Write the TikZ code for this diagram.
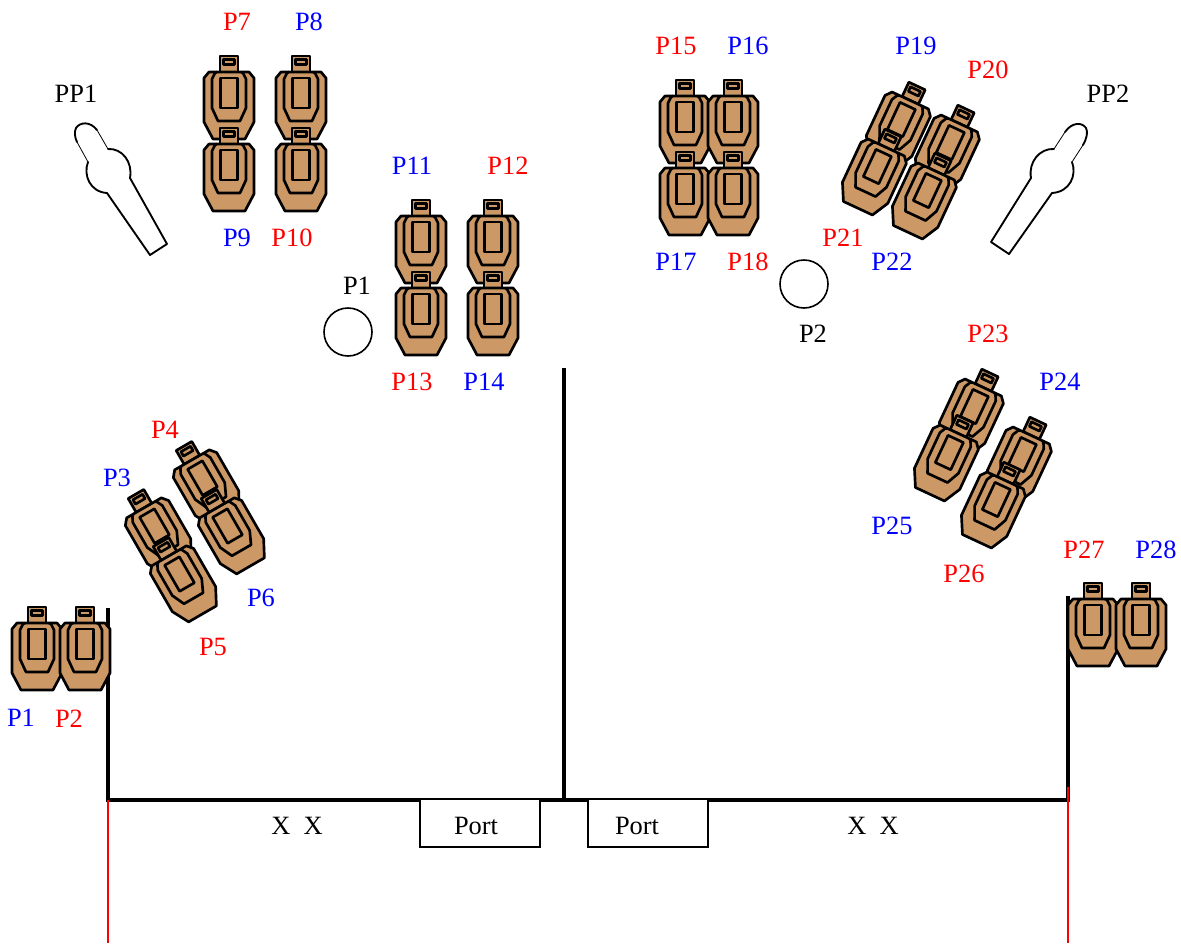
\documentclass[tikz,border=0pt]{standalone}
\usepackage{fontspec}
\setmainfont{Liberation Serif}
\definecolor{tan}{RGB}{204,153,102}
\tikzset{
  x=0.75pt,y=-0.75pt,
  target line/.style={draw=black,line width=2pt,line join=round},
  lbl/.style={font=\fontsize{19.8}{22}\selectfont,inner sep=0pt,anchor=center,yshift=-0.75pt},
  red lbl/.style={lbl,text=red},
  blue lbl/.style={lbl,text=blue},
  black lbl/.style={lbl,text=black},
  wall/.style={draw=black,line width=3.7pt},
  foul/.style={draw=red,line width=0.9pt},
  portbox/.style={draw=black,fill=white,line width=1.5pt,minimum width=90pt,minimum height=36pt,inner sep=0pt},
  ring/.style={draw=black,fill=white,line width=1.2pt,circle,minimum size=36pt,inner sep=0pt},
  popper/.style={draw=black,line width=1.4pt,line join=round,line cap=round},
  popper thin/.style={draw=black,line width=0.6pt},
  target/.pic={
    \path[target line,fill=tan] (-9,16) -- (-9,0) -- (9,0) -- (9,16) -- cycle;
    \path[target line,fill=tan] (-20,16) -- (-25,22) -- (-25,66) -- (-16,83) -- (16,83) -- (25,66) -- (25,22) -- (20,16) -- cycle;
    \path[target line,fill=tan] (-5.5,3.5) rectangle (5.5,8.5);
    \path[target line] (-12,16) -- (-14,17) -- (-17,23) -- (-17,52) -- (-11,65) -- (11,65) -- (17,52) -- (17,23) -- (14,17) -- (12,16);
    \path[target line] (-8.5,22) rectangle (8.5,52);
  }
}
\begin{document}
\begin{tikzpicture}
\useasboundingbox (0,0) rectangle (1181,943);
% walls
\coordinate (wl) at (108,608);
\coordinate (wbl) at (108,800);
\coordinate (wm) at (564,368);
\coordinate (wbm) at (564,800);
\coordinate (wr) at (1068,596);
\coordinate (wbr) at (1068,800);
\coordinate (fl) at (108,943);
\coordinate (fr) at (1068,943);
\coordinate (frt) at (1068,787);
\draw[wall] (wl) -- (wbl) -- (wbr) -- (wr);
\draw[wall] (wm) -- (wbm);
\draw[foul] (wbl) -- (fl);
\draw[foul] (frt) -- (fr);
\node[portbox] (port1) at (480,823) {};
\node[portbox] (port2) at (648,823) {};
\node[black lbl] (ptext1) at (476,825) {Port};
\node[black lbl] (ptext2) at (637,825) {Port};
% no-shoot circles
\node[ring] (c1) at (348,332) {};
\node[ring] (c2) at (804,284) {};
% poppers
\path[popper] (150,255) -- (167,244) -- (130,178) .. controls (133,162) and (122,148) .. (108,149);
\path[popper thin] (108,149) -- (97,130);
\path[popper] (97,130) .. controls (90,121) and (80,122) .. (76,128) .. controls (74,132) and (75,138) .. (77,142);
\path[popper thin] (77,142) -- (88,162);
\path[popper] (88,162) .. controls (83,175) and (90,192) .. (107,193) -- (150,255);
\path[popper] (1009,254) -- (991,242) -- (1031,178) .. controls (1028,162) and (1040,148) .. (1054,149);
\path[popper thin] (1054,149) -- (1065,132);
\path[popper] (1065,132) .. controls (1072,122) and (1082,122) .. (1086,128) .. controls (1088,132) and (1087,138) .. (1083,145);
\path[popper thin] (1083,145) -- (1072,162);
\path[popper] (1072,162) .. controls (1077,175) and (1070,192) .. (1052,193) -- (1009,254);
% upright targets
\foreach \x/\y in {229/56,301/56,229/128,301/128,421/200,493/200,421/272,493/272,
                   685/80,733/80,685/152,733/152,37/607,85/607,1093/583,1141/583}
  \pic at (\x,\y) {target};
% angled left
\foreach \x/\y in {184/446,209/494,136/494,161/542}
  \pic[rotate=30] at (\x,\y) {target};
% angled right
\foreach \x/\y in {917/86,893/133,966/109,943/157,990/373,965/419,1038/421,1012/466}
  \pic[rotate=-25] at (\x,\y) {target};
% labels
\foreach \n/\t/\x/\y in {a/P7/237/21,b/P10/292/237,c/P12/508/165,d/P13/412/381,e/P4/165/429,f/P5/213/646,g/P2/69/718,
  h/P15/676/45,i/P18/748/261,j/P20/988/69,k/P21/843/237,l/P23/988/333,m/P26/964/573,n/P27/1084/549}
  \node[red lbl] (r\n) at (\x,\y) {\t};
\foreach \n/\t/\x/\y in {a/P8/309/21,b/P9/237/237,c/P11/412/165,d/P14/484/381,e/P3/117/477,f/P6/261/597,g/P1/21/717,
  h/P16/748/45,i/P17/676/261,j/P19/916/45,k/P22/892/261,l/P24/1060/381,m/P25/892/525,n/P28/1156/549}
  \node[blue lbl] (b\n) at (\x,\y) {\t};
\node[black lbl] (pp1) at (76,93) {PP1};
\node[black lbl] (pp2) at (1108,93) {PP2};
\node[black lbl] (p1) at (357,285) {P1};
\node[black lbl] (p2) at (813,333) {P2};
\node[black lbl] (x1) at (297,825) {X\hspace{0.5em}X};
\node[black lbl] (x2) at (873,825) {X\hspace{0.5em}X};
\end{tikzpicture}
\end{document}
